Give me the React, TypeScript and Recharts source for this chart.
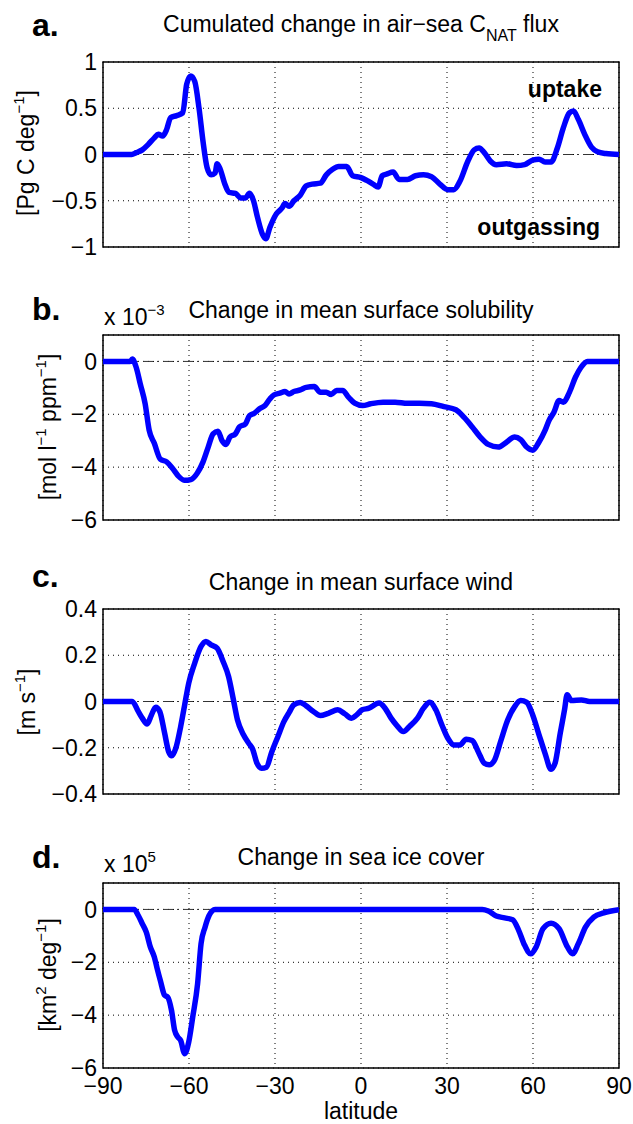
import React from "react";
import { LineChart, Line, XAxis, YAxis, CartesianGrid, ReferenceLine, ReferenceArea } from "recharts";

document.body.style.margin = "0";

const FONT = "'Liberation Sans', Arial, Helvetica, sans-serif";

// [latitude, value]
const fluxPoints = [
  [-90, 0], [-80, 0], [-78.4, 0.02], [-76.3, 0.05], [-74.2, 0.11], [-72.1, 0.18], [-70.7, 0.22], [-69.2, 0.2],
  [-67.8, 0.27], [-66.4, 0.4], [-64.3, 0.42], [-62.2, 0.45], [-60.8, 0.76], [-59.4, 0.85], [-58.0, 0.79],
  [-56.5, 0.5], [-55.1, 0.14], [-53.7, -0.14], [-52.3, -0.22], [-50.9, -0.2], [-50.2, -0.1], [-49.1, -0.16],
  [-47.6, -0.31], [-46.0, -0.41], [-43.8, -0.42], [-42.0, -0.47], [-40.3, -0.47], [-38.9, -0.42], [-37.5, -0.5],
  [-36.1, -0.68], [-34.4, -0.86], [-33.2, -0.91], [-31.8, -0.79], [-29.7, -0.65], [-27.6, -0.58], [-26.5, -0.53],
  [-25.1, -0.56], [-23.4, -0.5], [-21.2, -0.44], [-19.1, -0.34], [-17.0, -0.32], [-14.2, -0.31], [-12.1, -0.22],
  [-9.9, -0.16], [-7.8, -0.13], [-5.0, -0.13], [-2.9, -0.23], [0, -0.25], [2.0, -0.28], [4.2, -0.32], [6.0, -0.35],
  [7.4, -0.23], [9.1, -0.21], [11.2, -0.19], [13.3, -0.27], [16.2, -0.27], [19.0, -0.23], [21.8, -0.22],
  [24.6, -0.24], [27.5, -0.32], [30.3, -0.38], [32.4, -0.38], [34.5, -0.29], [37.3, -0.07], [39.5, 0.05],
  [41.2, 0.07], [43.0, 0.02], [45.1, -0.07], [47.2, -0.11], [50.8, -0.1], [54.3, -0.12], [57.1, -0.11],
  [59.9, -0.06], [62.1, -0.05], [64.2, -0.08], [66.3, -0.08], [68.5, 0.07], [70.6, 0.29], [72.7, 0.45],
  [74.1, 0.47], [75.8, 0.38], [78.0, 0.22], [80.4, 0.08], [82.5, 0.03], [85.4, 0.01], [90, 0],
];

// x 10^-3
const solubilityPoints = [
  [-90, 0], [-80.5, 0], [-79.8, 0.09], [-78.4, -0.23], [-77.0, -0.85], [-75.3, -1.6], [-73.9, -2.6], [-72.1, -3.1],
  [-70.0, -3.7], [-67.8, -3.8], [-65.7, -4.05], [-63.6, -4.35], [-61.5, -4.5], [-59.4, -4.47], [-57.2, -4.24],
  [-55.1, -3.8], [-53.3, -3.24], [-51.6, -2.74], [-49.9, -2.64], [-48.5, -2.99], [-47.1, -3.14], [-45.7, -2.86],
  [-43.8, -2.74], [-42.4, -2.48], [-40.3, -2.36], [-38.9, -2.05], [-37.2, -1.96], [-35.4, -1.79], [-33.5, -1.67],
  [-31.8, -1.42], [-30.4, -1.27], [-28.3, -1.2], [-26.5, -1.14], [-25.1, -1.23], [-23.4, -1.14], [-21.2, -1.08],
  [-19.1, -0.98], [-16.3, -0.95], [-14.2, -1.17], [-12.1, -1.17], [-10.4, -1.25], [-8.5, -1.1], [-6.4, -1.1],
  [-4.3, -1.36], [-2.2, -1.58], [0.6, -1.67], [3.4, -1.6], [7.7, -1.54], [11.9, -1.54], [16.2, -1.58],
  [20.4, -1.58], [24.6, -1.6], [28.9, -1.71], [33.1, -1.83], [35.9, -2.11], [38.8, -2.48], [41.6, -2.86],
  [44.4, -3.14], [47.9, -3.24], [50.8, -3.05], [53.6, -2.86], [55.7, -2.96], [57.8, -3.24], [59.9, -3.36],
  [62.1, -3.05], [64.2, -2.61], [65.6, -2.23], [67.3, -1.92], [69.1, -1.48], [70.6, -1.54], [72.7, -1.17],
  [74.8, -0.6], [76.7, -0.23], [79.0, 0], [90, 0],
];

const windPoints = [
  [-90, 0], [-79.8, 0], [-77.7, -0.043], [-76.3, -0.072], [-74.6, -0.097], [-73.1, -0.058], [-71.6, -0.025],
  [-70.2, -0.043], [-68.5, -0.137], [-67.1, -0.217], [-66.0, -0.235], [-64.6, -0.202], [-62.9, -0.108],
  [-61.5, -0.014], [-60.1, 0.079], [-58.0, 0.166], [-55.8, 0.238], [-54.1, 0.26], [-52.3, 0.245], [-50.2, 0.231],
  [-48.1, 0.173], [-46.2, 0.108], [-44.5, 0.007], [-43.1, -0.079], [-41.0, -0.144], [-39.2, -0.18], [-37.8, -0.206],
  [-36.3, -0.267], [-34.7, -0.289], [-33.0, -0.284], [-31.1, -0.217], [-29.0, -0.152], [-26.9, -0.087],
  [-25.1, -0.048], [-23.4, -0.014], [-21.2, -0.004], [-19.1, -0.019], [-16.6, -0.043], [-14.2, -0.061],
  [-11.4, -0.051], [-8.1, -0.036], [-5.7, -0.053], [-3.3, -0.072], [-1.5, -0.058], [0.4, -0.036], [2.8, -0.029],
  [6.3, -0.007], [8.4, -0.029], [10.5, -0.072], [12.6, -0.105], [14.8, -0.13], [16.9, -0.108], [19.7, -0.072],
  [21.8, -0.029], [24.0, -0.003], [26.1, -0.036], [28.2, -0.101], [30.3, -0.159], [32.4, -0.188], [34.5, -0.188],
  [36.7, -0.163], [38.8, -0.169], [40.9, -0.217], [43.0, -0.267], [44.7, -0.274], [46.6, -0.253], [48.7, -0.173],
  [51.2, -0.079], [53.6, -0.022], [55.7, 0.004], [57.8, -0.004], [59.9, -0.058], [62.1, -0.144], [64.2, -0.224],
  [66.3, -0.293], [67.7, -0.267], [69.5, -0.137], [71.0, -0.036], [71.9, 0.029], [73.4, 0.004], [76.9, 0.007],
  [79.7, 0], [90, 0],
];

// x 10^5
const iceCoverPoints = [
  [-90, 0], [-79.1, 0], [-77.7, -0.23], [-76.3, -0.54], [-74.9, -0.86], [-73.5, -1.42], [-72.1, -1.8], [-71.1, -2.24],
  [-70.0, -2.69], [-68.5, -3.25], [-67.4, -3.32], [-66.1, -3.82], [-65.0, -4.58], [-63.9, -4.83], [-62.9, -4.96],
  [-61.5, -5.46], [-60.1, -5.02], [-58.7, -4.07], [-57.0, -2.81], [-55.8, -1.3], [-54.4, -0.67], [-53.0, -0.23],
  [-50.9, 0], [42.3, 0], [44.4, -0.06], [47.2, -0.25], [50.1, -0.32], [52.9, -0.39], [55.0, -0.79], [57.1, -1.36],
  [59.2, -1.68], [61.1, -1.42], [63.5, -0.73], [66.3, -0.52], [69.1, -0.73], [72.0, -1.42], [73.8, -1.68],
  [75.8, -1.3], [78.3, -0.67], [81.2, -0.29], [84.7, -0.13], [90, -0.01],
];

const latTicks = [-90, -60, -30, 0, 30, 60, 90];
const fluxTicks = [-1, -0.5, 0, 0.5, 1];
const solubilityTicks = [-6, -4, -2, 0];
const windTicks = [-0.4, -0.2, 0, 0.2, 0.4];
const iceTicks = [-6, -4, -2, 0];

const PLOT_H = 185;
const MT = 20;
const MB = 20;
const XH = 30;

const fmt = (v: number) => (v < 0 ? "\u2212" + Math.abs(v) : String(v));
const tickStyle = { fill: "#000", fontSize: 23, fontFamily: FONT };
const noTick = () => <g />;

function Panel({ points, domain, ticks, top, showX = false }: any) {
  const data = points.map(([lat, v]: number[]) => ({ lat, v }));
  const h = MT + PLOT_H + MB + (showX ? XH : 0);
  return (
    <div style={{ position: "absolute", left: 0, top: top - MT }}>
      <LineChart width={633} height={h} data={data} margin={{ top: MT, right: 14, bottom: MB, left: 0 }}>
        <CartesianGrid stroke="#000" strokeDasharray="1 4" />
        <XAxis
          type="number"
          dataKey="lat"
          domain={[-90, 90]}
          ticks={latTicks}
          interval={0}
          height={showX ? XH : 0}
          tick={showX ? tickStyle : noTick}
          tickFormatter={fmt}
          axisLine={false}
          tickLine={false}
          tickMargin={4}
          allowDataOverflow
        />
        <YAxis
          type="number"
          domain={domain}
          ticks={ticks}
          interval={0}
          width={103}
          tick={tickStyle}
          tickFormatter={fmt}
          axisLine={false}
          tickLine={false}
          tickMargin={0}
          allowDataOverflow
        />
        <ReferenceLine y={0} stroke="#333" strokeDasharray="10 4 2 4" />
        <Line type="monotone" dataKey="v" stroke="#0000ff" strokeWidth={5.5} dot={false} isAnimationActive={false} />
        <ReferenceArea x1={-90} x2={90} y1={domain[0]} y2={domain[1]} fill="none" stroke="#000" strokeWidth={1.5} />
      </LineChart>
    </div>
  );
}

export default function App() {
  const t = { fontFamily: FONT, fontSize: 23, fill: "#000" } as const;
  const letter = { fontFamily: FONT, fontSize: 32, fontWeight: 700, fill: "#000" } as const;
  return (
    <div style={{ position: "relative", width: 633, height: 1124, background: "#fff", overflow: "hidden" }}>
      <Panel points={fluxPoints} domain={[-1, 1]} ticks={fluxTicks} top={62} />
      <Panel points={solubilityPoints} domain={[-6, 1]} ticks={solubilityTicks} top={335} />
      <Panel points={windPoints} domain={[-0.4, 0.4]} ticks={windTicks} top={609} />
      <Panel points={iceCoverPoints} domain={[-6, 1]} ticks={iceTicks} top={883} showX />

      <svg width={633} height={1124} style={{ position: "absolute", left: 0, top: 0, pointerEvents: "none" }}>
        {/* panel a */}
        <text x={32} y={36} {...letter}>a.</text>
        <text x={361} y={32} textAnchor="middle" {...t}>
          Cumulated change in air{"\u2212"}sea C
          <tspan fontSize={16} dy={9}>NAT</tspan>
          <tspan dy={-9}> flux</tspan>
        </text>
        <text x={602} y={97} textAnchor="end" {...t} fontWeight={700}>uptake</text>
        <text x={600} y={235} textAnchor="end" {...t} fontWeight={700}>outgassing</text>
        <text transform="translate(34,153) rotate(-90)" textAnchor="middle" {...t}>
          [Pg C deg<tspan fontSize={15} dy={-10}>{"\u2212"}1</tspan><tspan dy={10}>]</tspan>
        </text>

        {/* panel b */}
        <text x={32} y={320} {...letter}>b.</text>
        <text x={361} y={318} textAnchor="middle" {...t}>Change in mean surface solubility</text>
        <text x={104} y={325} {...t}>
          x 10<tspan fontSize={15} dy={-10}>{"\u2212"}3</tspan>
        </text>
        <text transform="translate(56,427) rotate(-90)" textAnchor="middle" {...t}>
          [mol l<tspan fontSize={15} dy={-10}>{"\u2212"}1</tspan>
          <tspan dy={10}>  ppm</tspan>
          <tspan fontSize={15} dy={-10}>{"\u2212"}1</tspan>
          <tspan dy={10}>]</tspan>
        </text>

        {/* panel c */}
        <text x={32} y={587} {...letter}>c.</text>
        <text x={361} y={590} textAnchor="middle" {...t}>Change in mean surface wind</text>
        <text transform="translate(35,702) rotate(-90)" textAnchor="middle" {...t}>
          [m s<tspan fontSize={15} dy={-10}>{"\u2212"}1</tspan><tspan dy={10}>]</tspan>
        </text>

        {/* panel d */}
        <text x={32} y={868} {...letter}>d.</text>
        <text x={361} y={865} textAnchor="middle" {...t}>Change in sea ice cover</text>
        <text x={104} y={872} {...t}>
          x 10<tspan fontSize={15} dy={-10}>5</tspan>
        </text>
        <text transform="translate(56,975) rotate(-90)" textAnchor="middle" {...t}>
          [km<tspan fontSize={15} dy={-10}>2</tspan>
          <tspan dy={10}> deg</tspan>
          <tspan fontSize={15} dy={-10}>{"\u2212"}1</tspan>
          <tspan dy={10}>]</tspan>
        </text>
        <text x={361} y={1119} textAnchor="middle" {...t}>latitude</text>
      </svg>
    </div>
  );
}
